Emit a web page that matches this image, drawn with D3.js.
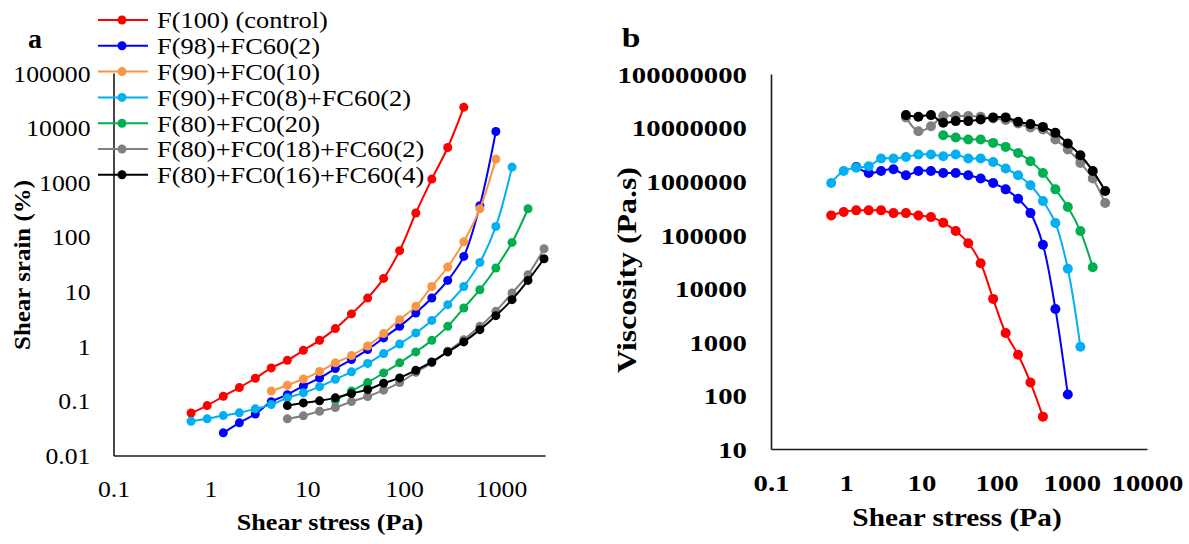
<!DOCTYPE html>
<html><head><meta charset="utf-8">
<script src="https://cdn.jsdelivr.net/npm/d3@7"></script>
<style>body{margin:0;background:#fff}</style>
</head><body>
<svg id="c" width="1189" height="544"></svg>
<script>
// ---- data (stress grid shared by all series; null = no measurement) ----
const stressPa = [0.632,0.926,1.36,1.99,2.91,4.25,6.23,9.12,13.4,19.5,28.6,42.0,61.4,89.9,132,193,282,413,605,885,1300,1900,2780];

const seriesNames = ["F(100) (control)","F(98)+FC60(2)","F(90)+FC0(10)","F(90)+FC0(8)+FC60(2)","F(80)+FC0(20)","F(80)+FC0(18)+FC60(2)","F(80)+FC0(16)+FC60(4)"];
const seriesColors = ["#FF0000","#0000FF","#F79646","#00B0F0","#00B050","#808080","#000000"];

// Panel a: shear strain (%)
const strainF100 = [0.060,0.082,0.121,0.175,0.259,0.401,0.552,0.84,1.28,2.1,3.9,7.6,17.4,56,274,1145,4330,23700,null,null,null,null,null];
const strainF98 = [null,null,0.026,0.0396,0.0574,0.0964,0.130,0.188,0.261,0.389,0.569,0.867,1.42,2.31,4.06,7.64,16.0,44.0,372,8490,null,null,null];
const strainF90C10 = [null,null,null,null,null,0.151,0.193,0.251,0.344,0.496,0.673,1.01,1.70,3.06,5.36,12.4,28.2,81.7,328,2655,null,null,null];
const strainF90C8 = [0.0424,0.0469,0.0538,0.0604,0.0715,0.0855,0.1135,0.140,0.182,0.248,0.340,0.485,0.733,1.10,1.75,2.97,5.76,12.4,34.2,156,1897,null,null];
const strainF80C20 = [null,null,null,null,null,null,null,null,null,0.101,0.151,0.216,0.325,0.496,0.787,1.28,2.31,5.01,10.8,27.0,79.3,328,null];
const strainF80C18 = [null,null,null,null,null,null,0.0469,0.0532,0.0646,0.0755,0.097,0.120,0.157,0.216,0.333,0.496,0.807,1.32,2.31,4.35,9.42,20.4,60.8];
const strainF80C16 = [null,null,null,null,null,null,0.082,0.0918,0.100,0.1135,0.136,0.161,0.210,0.263,0.362,0.516,0.787,1.20,2.01,3.62,7.11,16.0,39.9];

// Panel b: viscosity (Pa.s)
const viscF100 = [229600,265000,285000,285000,285000,253000,253000,229000,213000,168000,117000,69500,29400,6340,1463,574,174,40.2,null,null,null,null,null];
const viscF98 = [null,null,1.84e6,1.42e6,1.55e6,1.67e6,1.29e6,1.55e6,1.55e6,1.42e6,1.42e6,1.29e6,1.12e6,9.2e5,7.03e5,4.71e5,2.53e5,6.49e4,4120,104,null,null,null];
const viscF90C8 = [9.23e5,1.55e6,1.78e6,1.9e6,2.64e6,2.64e6,2.83e6,3.14e6,3.14e6,2.92e6,3.14e6,2.64e6,2.64e6,2.28e6,1.72e6,1.29e6,8.36e5,4.25e5,1.65e5,2.31e4,811,null,null];
const viscF80C20 = [null,null,null,null,null,null,null,null,null,7.21e6,6.53e6,6.0e6,6.0e6,5.18e6,4.36e6,3.36e6,2.35e6,1.42e6,7.03e5,3.28e5,1.17e5,2.47e4,null];
const viscF80C18 = [null,null,null,null,null,null,1.55e7,8.57e6,1.06e7,1.64e7,1.64e7,1.64e7,1.59e7,1.48e7,1.38e7,1.19e7,1.0e7,9.2e6,6.0e6,3.89e6,2.19e6,1.12e6,3.9e5];
const viscF80C16 = [null,null,null,null,null,null,1.71e7,1.59e7,1.71e7,1.23e7,1.32e7,1.32e7,1.42e7,1.55e7,1.55e7,1.28e7,1.16e7,1.03e7,7.97e6,5.04e6,3.05e6,1.55e6,6.55e5];

const xTicksA = [0.1,1,10,100,1000];
const yTicksA = [0.01,0.1,1,10,100,1000,10000,100000];
const xTicksB = [0.1,1,10,100,1000,10000];
const yTicksB = [10,100,1000,10000,100000,1000000,10000000,100000000];

const panelAData = [strainF100,strainF98,strainF90C10,strainF90C8,strainF80C20,strainF80C18,strainF80C16];
const panelBData = [viscF100,viscF98,null,viscF90C8,viscF80C20,viscF80C18,viscF80C16];

// ---- drawing ----
const svg = d3.select("#c");
const FONT = "'Liberation Serif','Times New Roman',serif";

function pts(arr){ return stressPa.map((s,i)=>[s,arr[i]]).filter(d=>d[1]!=null); }

function drawPanel(xs, ys, data, r){
  const g = svg.append("g");
  const line = d3.line().x(d=>xs(d[0])).y(d=>ys(d[1])).curve(d3.curveCatmullRom.alpha(0.5));
  data.forEach((arr,k)=>{
    if(!arr) return;
    const p = pts(arr);
    g.append("path").attr("d",line(p)).attr("fill","none")
      .attr("stroke",seriesColors[k]).attr("stroke-width",2);
    g.selectAll(null).data(p).enter().append("circle")
      .attr("cx",d=>xs(d[0])).attr("cy",d=>ys(d[1])).attr("r",r)
      .attr("fill",seriesColors[k]);
  });
}

function axes(xs, ys, xY, yX, opt){
  const fmt = d=> d<1 ? String(d) : d3.format("d")(d);
  const gx = svg.append("g").attr("transform",`translate(0,${xY})`)
    .call(d3.axisBottom(xs).tickValues(opt.xt).tickFormat(fmt).tickSize(0).tickSizeOuter(0));
  const gy = svg.append("g").attr("transform",`translate(${yX},0)`)
    .call(d3.axisLeft(ys).tickValues(opt.yt).tickFormat(fmt).tickSize(0).tickSizeOuter(0));
  [gx,gy].forEach(g=>{
    g.select(".domain").attr("stroke","#1a1a1a").attr("stroke-width",1.6);
    g.attr("font-family",null).attr("font-size",null);
  });
  gx.selectAll("text").attr("y",0).attr("dy","0.35em")
    .attr("transform",`translate(0,${opt.xoff}) scale(${opt.sx},1)`)
    .style("font-family",FONT).style("font-size",opt.fs+"px").style("font-weight",opt.fw).attr("fill","#000");
  gy.selectAll("text").attr("x",0).attr("dy","0.35em")
    .attr("transform",`translate(${-opt.yoff},0) scale(${opt.sx},1)`)
    .style("font-family",FONT).style("font-size",opt.fs+"px").style("font-weight",opt.fw).attr("fill","#000");
}

function label(txt,x,y,fs,fw,sx,anchor,rot){
  svg.append("text").text(txt).attr("x",0).attr("y",0).attr("dy","0.35em")
    .attr("text-anchor",anchor)
    .attr("transform",`translate(${x},${y})${rot?" rotate(-90)":""} scale(${sx},1)`)
    .style("font-family",FONT).style("font-size",fs+"px").style("font-weight",fw).attr("fill","#000");
}

// Panel a
const xA = d3.scaleLog().domain([0.1,2845]).range([113.5,545]);
const yA = d3.scaleLog().domain([0.01,100000]).range([455.5,73]);
drawPanel(xA,yA,panelAData,4.5);
axes(xA,yA,455.5,113.5,{xt:xTicksA,yt:yTicksA,sx:1.12,fs:23,fw:"normal",xoff:33,yoff:23});
label("Shear stress (Pa)",330,522,24,"bold",1.09,"middle",false);
label("Shear srain (%)",22,265,24,"bold",1.04,"middle",true);
label("a",35,38,28,"bold",1,"middle",false);

// Panel b
const xB = d3.scaleLog().domain([0.1,10000]).range([771,1147]);
const yB = d3.scaleLog().domain([10,1e8]).range([449,74]);
drawPanel(xB,yB,panelBData,5);
axes(xB,yB,449,771,{xt:xTicksB,yt:yTicksB,sx:1.2,fs:24,fw:"bold",xoff:34,yoff:24});
label("Shear stress (Pa)",957,517,26,"bold",1.13,"middle",false);
label("Viscosity (Pa.s)",627,270,27,"bold",1.18,"middle",true);
label("b",631,37,28,"bold",1.2,"middle",false);

// Legend (panel a)
const leg = svg.append("g");
seriesNames.forEach((n,k)=>{
  const y = 20 + k*25.8;
  leg.append("line").attr("x1",98).attr("x2",148).attr("y1",y).attr("y2",y)
    .attr("stroke",seriesColors[k]).attr("stroke-width",2);
  leg.append("circle").attr("cx",122).attr("cy",y).attr("r",4.5).attr("fill",seriesColors[k]);
  leg.append("text").text(n).attr("x",0).attr("y",0).attr("dy","0.35em")
    .attr("transform",`translate(157,${y}) scale(1.1,1)`)
    .style("font-family",FONT).style("font-size","24px").attr("fill","#000");
});
</script>
</body></html>
